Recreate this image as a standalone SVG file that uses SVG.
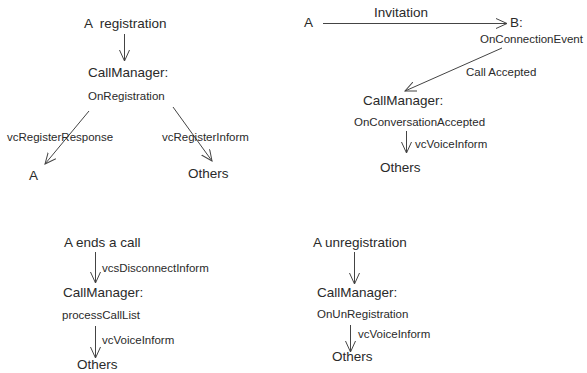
<svg xmlns="http://www.w3.org/2000/svg" width="587" height="373" viewBox="0 0 587 373">
<defs>
<marker id="arr" markerUnits="userSpaceOnUse" markerWidth="12" markerHeight="11" viewBox="0 0 12 11" refX="11" refY="5.5" orient="auto">
<path d="M0,0.5 L11,5.5 L0,10.5" fill="none" stroke="#444" stroke-width="1"/>
</marker>
<style>
.big{font-family:"Liberation Sans",Arial,sans-serif;font-size:13.5px;fill:#2a2a2a}
.sm{font-family:"Liberation Sans",Arial,sans-serif;font-size:11.5px;fill:#2a2a2a}
.ln{stroke:#444;stroke-width:1;fill:none;marker-end:url(#arr)}
</style>
</defs>
<rect width="587" height="373" fill="#fff"/>
<g id="connectors">
<line class="ln" x1="124.5" y1="34" x2="124.5" y2="61"/>
<line class="ln" x1="89" y1="111" x2="45" y2="164"/>
<line class="ln" x1="173" y1="107" x2="212" y2="161"/>
<line class="ln" x1="323" y1="23.5" x2="507" y2="23.5"/>
<line class="ln" x1="502" y1="48" x2="405" y2="91"/>
<line class="ln" x1="406.5" y1="131" x2="406.5" y2="153"/>
<line class="ln" x1="95.5" y1="252" x2="95.5" y2="283"/>
<line class="ln" x1="95.5" y1="326" x2="95.5" y2="358"/>
<line class="ln" x1="354.5" y1="252" x2="354.5" y2="284"/>
<line class="ln" x1="350.5" y1="325" x2="350.5" y2="352"/>
</g>
<g id="n1"><text class="big" x="84" y="28" xml:space="preserve">A  registration</text></g>
<g id="n2"><text class="big" x="88" y="77">CallManager:</text><text class="sm" x="88" y="100">OnRegistration</text></g>
<g id="n3"><text class="big" x="29" y="180">A</text></g>
<g id="n4"><text class="big" x="188" y="178">Others</text></g>
<g id="l1"><text class="sm" x="7" y="141">vcRegisterResponse</text></g>
<g id="l2"><text class="sm" x="162" y="141">vcRegisterInform</text></g>
<g id="n5"><text class="big" x="304" y="27">A</text></g>
<g id="l3"><text class="big" x="374" y="17">Invitation</text></g>
<g id="n6"><text class="big" x="510" y="27">B:</text><text class="sm" x="480" y="43">OnConnectionEvent</text></g>
<g id="l4"><text class="sm" x="466" y="76">Call Accepted</text></g>
<g id="n7"><text class="big" x="363" y="105">CallManager:</text><text class="sm" x="354" y="126">OnConversationAccepted</text></g>
<g id="l5"><text class="sm" x="415" y="148">vcVoiceInform</text></g>
<g id="n8"><text class="big" x="380" y="172">Others</text></g>
<g id="n9"><text class="big" x="64" y="247">A ends a call</text></g>
<g id="l6"><text class="sm" x="102" y="272">vcsDisconnectInform</text></g>
<g id="n10"><text class="big" x="63" y="297">CallManager:</text><text class="sm" x="62" y="319">processCallList</text></g>
<g id="l7"><text class="sm" x="102" y="344">vcVoiceInform</text></g>
<g id="n11"><text class="big" x="77" y="369">Others</text></g>
<g id="n12"><text class="big" x="313" y="247">A unregistration</text></g>
<g id="n13"><text class="big" x="317" y="297">CallManager:</text><text class="sm" x="317" y="318">OnUnRegistration</text></g>
<g id="l8"><text class="sm" x="358" y="338">vcVoiceInform</text></g>
<g id="n14"><text class="big" x="332" y="361">Others</text></g>
</svg>
